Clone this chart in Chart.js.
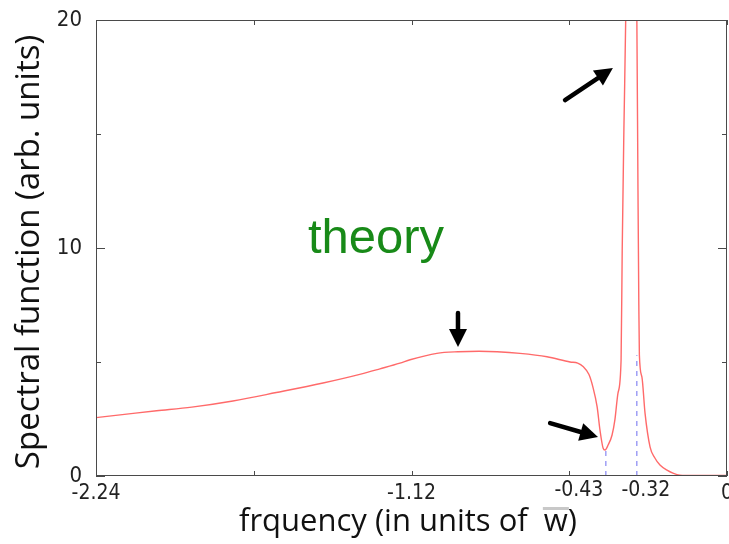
<!DOCTYPE html>
<html>
<head>
<meta charset="utf-8">
<script src="https://cdn.jsdelivr.net/npm/chart.js@4/dist/chart.umd.min.js"></script>
<style>
  html, body { margin: 0; padding: 0; background: #ffffff; }
  #wrap { width: 729px; height: 544px; position: relative; }
</style>
</head>
<body>
<div id="wrap"><canvas id="chart"></canvas></div>
<script>
// Frequency grid (in units of w-bar) and the computed spectral function
const freq = [
  -2.24, -2.10, -2.025, -1.90, -1.754, -1.60, -1.434, -1.30, -1.232, -1.161,
  -1.125, -1.03, -0.955, -0.88, -0.816, -0.735, -0.639, -0.557, -0.53, -0.511,
  -0.49, -0.476, -0.461, -0.451, -0.44, -0.433, -0.422, -0.408, -0.398, -0.387,
  -0.376, -0.372, -0.366, -0.359, -0.35, -0.34, -0.33, -0.32, -0.316, -0.313,
  -0.311, -0.302, -0.291, -0.273, -0.256, -0.238, -0.213, -0.192, -0.167, -0.12,
  -0.05, 0
];
const spectral = [
  2.56, 2.76, 2.86, 3.02, 3.29, 3.66, 4.08, 4.47, 4.70, 4.95,
  5.10, 5.38, 5.45, 5.47, 5.45, 5.38, 5.23, 5.00, 4.95, 4.80,
  4.45, 3.90, 3.03, 2.02, 1.23, 1.14, 1.36, 1.80, 2.46, 3.64,
  5.09, 9.9, 15.2, 20.5, 32, 38, 30, 20.0, 12.5, 7.5,
  5.3, 4.34, 2.76, 1.27, 0.79, 0.48, 0.26, 0.13, 0.04, 0.02,
  0.02, 0.02
];

// Axis ticks
const xTickValues = [-2.24, -1.68, -1.12, -0.56, 0];
const xTickText = ['-2.24', '', '-1.12', '', '0'];
const yTickValues = [0, 5, 10, 15, 20];
const yTickText = ['0', '', '10', '', '20'];

// Marked frequencies: dip and edge of the sharp peak
const markFreq = [-0.43, -0.32];
const markText = ['-0.43', '-0.32'];
const markTop = [1.14, 5.3];

// Arrows pointing at features, given as [freq, value] pairs
const arrowTails = [[-0.575, 16.49], [-0.955, 7.15], [-0.628, 2.32]];
const arrowTips = [[-0.405, 17.89], [-0.955, 5.66], [-0.458, 1.71]];

const curve = freq.map((f, i) => ({ x: f, y: spectral[i] }));
const markerSets = markFreq.map((f, i) => ({
  data: [{ x: f, y: 0 }, { x: f, y: markTop[i] }],
  borderColor: '#6f6ff0',
  borderWidth: 1,
  borderDash: [5, 5],
  pointRadius: 0,
  showLine: true,
  fill: false
}));

const TICK_FONT = '"Liberation Sans Narrow", "DejaVu Sans Condensed", sans-serif';
const TITLE_FONT = '"Open Sans", Lato, sans-serif';

const decorations = {
  id: 'decorations',
  afterDatasetsDraw(chart) {
    const { ctx, chartArea: a, scales: { x, y } } = chart;
    ctx.save();

    // frame around the plot
    ctx.strokeStyle = '#4a4a4a';
    ctx.lineWidth = 1;
    ctx.strokeRect(a.left + 0.5, a.top + 0.5, a.right - a.left - 1, a.bottom - a.top - 1);

    // inward tick marks on all four sides
    ctx.beginPath();
    xTickValues.forEach(v => {
      const px = Math.round(x.getPixelForValue(v)) + 0.5;
      ctx.moveTo(px, a.bottom); ctx.lineTo(px, a.bottom - 5);
      ctx.moveTo(px, a.top); ctx.lineTo(px, a.top + 5);
    });
    yTickValues.forEach((v, i) => {
      const py = Math.round(y.getPixelForValue(v)) + 0.5;
      const len = yTickText[i] ? 9 : 5;
      ctx.moveTo(a.left, py); ctx.lineTo(a.left + len, py);
      ctx.moveTo(a.right, py); ctx.lineTo(a.right - len, py);
    });
    ctx.stroke();

    // labels of the marked frequencies, nudged apart
    ctx.fillStyle = '#222';
    ctx.font = '21px ' + TICK_FONT;
    ctx.textAlign = 'center';
    ctx.textBaseline = 'middle';
    const nudge = [-27, 9];
    markFreq.forEach((f, i) => {
      ctx.fillText(markText[i], x.getPixelForValue(f) + nudge[i], 491);
    });

    // arrows
    ctx.fillStyle = '#000';
    ctx.strokeStyle = '#000';
    arrowTails.forEach((t, i) => {
      const x0 = x.getPixelForValue(t[0]), y0 = y.getPixelForValue(t[1]);
      const x1 = x.getPixelForValue(arrowTips[i][0]), y1 = y.getPixelForValue(arrowTips[i][1]);
      const ang = Math.atan2(y1 - y0, x1 - x0);
      const head = 18, half = 9;
      const bx = x1 - head * Math.cos(ang), by = y1 - head * Math.sin(ang);
      ctx.lineWidth = 4.5;
      ctx.lineCap = 'round';
      ctx.beginPath();
      ctx.moveTo(x0, y0); ctx.lineTo(bx, by);
      ctx.stroke();
      ctx.beginPath();
      ctx.moveTo(x1, y1);
      ctx.lineTo(bx + half * Math.sin(ang), by - half * Math.cos(ang));
      ctx.lineTo(bx - half * Math.sin(ang), by + half * Math.cos(ang));
      ctx.closePath();
      ctx.fill();
    });

    // in-plot caption
    ctx.fillStyle = '#188a18';
    ctx.font = '49px "Liberation Sans", Arial, sans-serif';
    ctx.textAlign = 'center';
    ctx.textBaseline = 'alphabetic';
    ctx.fillText('theory', x.getPixelForValue(-1.246), y.getPixelForValue(9.78));

    // axis titles
    ctx.fillStyle = '#111';
    ctx.font = '31px ' + TITLE_FONT;
    ctx.textBaseline = 'middle';
    const main = 'frquency (in units of  ';
    const sym = 'w';
    const tail = ')';
    const wMain = ctx.measureText(main).width;
    const wSym = ctx.measureText(sym).width;
    const wTail = ctx.measureText(tail).width;
    const cx = 408 - (wMain + wSym + wTail) / 2;
    const ty = 522;
    ctx.textAlign = 'left';
    ctx.fillText(main, cx, ty);
    ctx.fillText(sym, cx + wMain, ty);
    ctx.fillText(tail, cx + wMain + wSym, ty);
    // bar over the w
    ctx.fillStyle = '#c8c8c8';
    ctx.fillRect(cx + wMain - 1, ty - 15, wSym + 2, 3);

    ctx.fillStyle = '#111';
    ctx.font = '33px ' + TITLE_FONT;
    ctx.translate(30, 252);
    ctx.rotate(-Math.PI / 2);
    ctx.textAlign = 'center';
    ctx.fillText('Spectral function (arb. units)', 0, 0);
    ctx.restore();
  }
};

new Chart(document.getElementById('chart'), {
  type: 'scatter',
  data: {
    datasets: [
      {
        data: curve,
        borderColor: '#ff6a6a',
        borderWidth: 1.4,
        pointRadius: 0,
        showLine: true,
        fill: false,
        cubicInterpolationMode: 'monotone'
      },
      ...markerSets
    ]
  },
  options: {
    responsive: true,
    maintainAspectRatio: false,
    animation: false,
    layout: { padding: { left: 0, right: 2, top: 20, bottom: 0 } },
    plugins: { legend: { display: false }, tooltip: { enabled: false } },
    scales: {
      x: {
        type: 'linear',
        min: -2.24,
        max: 0,
        afterBuildTicks: s => { s.ticks = xTickValues.map(v => ({ value: v })); },
        afterFit: s => { s.height = 68; s.paddingLeft = 0; s.paddingRight = 0; },
        grid: { display: false, drawTicks: false },
        border: { display: false },
        ticks: {
          autoSkip: false,
          maxRotation: 0,
          padding: 5,
          color: '#222',
          font: { family: TICK_FONT, size: 21 },
          callback: (v, i) => xTickText[i]
        }
      },
      y: {
        min: 0,
        max: 20,
        afterBuildTicks: s => { s.ticks = yTickValues.map(v => ({ value: v })); },
        afterFit: s => { s.width = 96; s.paddingTop = 0; s.paddingBottom = 0; },
        grid: { display: false, drawTicks: false },
        border: { display: false },
        ticks: {
          padding: 14,
          color: '#222',
          font: { family: TICK_FONT, size: 22 },
          callback: (v, i) => yTickText[i]
        }
      }
    }
  },
  plugins: [decorations]
});
</script>
</body>
</html>
